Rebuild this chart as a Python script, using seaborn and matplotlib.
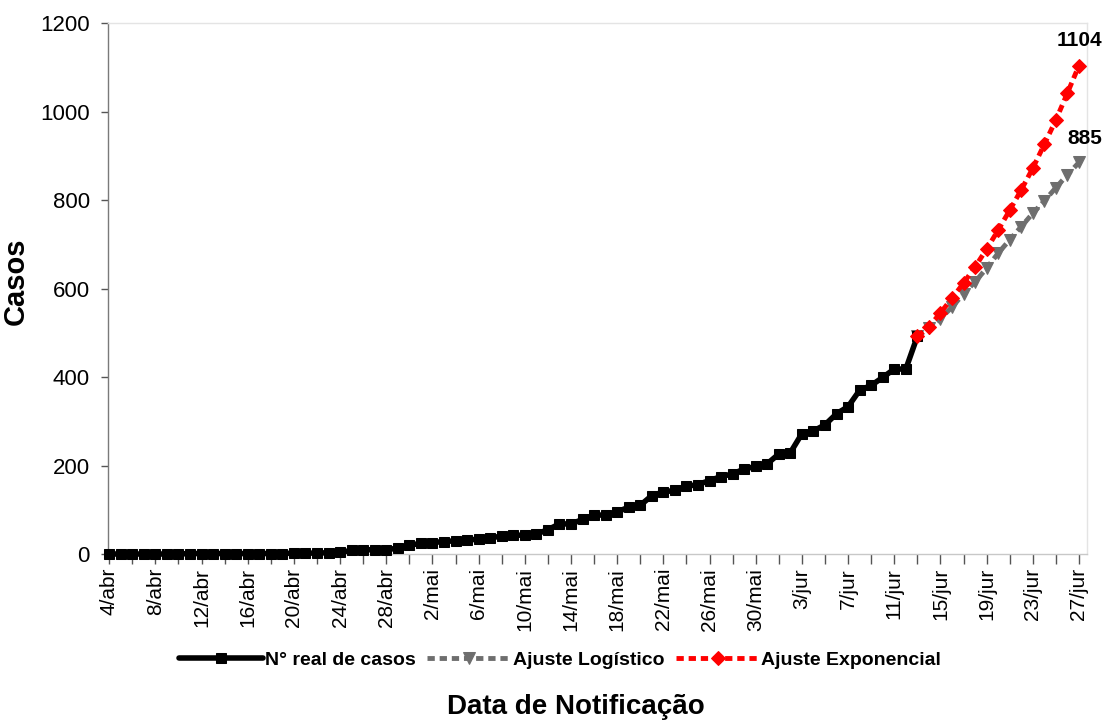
import numpy as np
import pandas as pd
import seaborn as sns
import matplotlib.pyplot as plt

# casos reais (4/abr .. 13/jun) e ajustes (13/jun .. 27/jun)
real_cases = [0, 0, 0, 0, 0, 0, 0, 1, 1, 1, 1, 1, 1, 1, 1, 1,
              2, 2, 2, 3, 4, 8, 9, 10, 10, 13, 20, 24, 26, 28,
              30, 31, 34, 37, 40, 42, 43, 45, 55, 68, 68, 78, 88, 88,
              95, 106, 110, 132, 140, 144, 153, 157, 166, 175, 181, 192,
              198, 204, 226, 229, 272, 278, 292, 317, 333, 370, 381, 399,
              418, 418, 492]
logistic_fit = [492, 510, 532, 558, 588, 615, 646, 680, 710, 740, 770, 798,
                828, 857, 885]
exponential_fit = [492, 513, 545, 578, 612, 649, 689, 732, 777, 823, 872,
                   926, 981, 1042, 1104]
tick_labels = ['4/abr', '8/abr', '12/abr', '16/abr', '20/abr', '24/abr',
               '28/abr', '2/mai', '6/mai', '10/mai', '14/mai', '18/mai',
               '22/mai', '26/mai', '30/mai', '3/jur', '7/jur', '11/jur',
               '15/jur', '19/jur', '23/jur', '27/jur']

real_df = pd.DataFrame({'dia': np.arange(len(real_cases)), 'casos': real_cases})
fit_start = len(real_cases) - 1
fit_days = np.arange(fit_start, fit_start + len(logistic_fit))
fit_df = pd.DataFrame({'dia': fit_days, 'log': logistic_fit, 'exp': exponential_fit})

sns.set_style("white")
plt.rcParams['font.family'] = ['Liberation Sans', 'DejaVu Sans']
plt.rcParams['text.color'] = 'black'
plt.rcParams['axes.labelcolor'] = 'black'
plt.rcParams['xtick.color'] = 'black'
plt.rcParams['ytick.color'] = 'black'

fig = plt.figure(figsize=(11.07, 7.24), dpi=100)
ax = fig.add_axes([0.0976, 0.2348, 0.8844, 0.7334])

sns.lineplot(data=real_df, x='dia', y='casos', ax=ax, color='black', lw=4,
             marker='s', markersize=7, markeredgecolor='black', legend=False,
             clip_on=False, zorder=3)
sns.lineplot(data=fit_df, x='dia', y='log', ax=ax, color='#6e6e6e', lw=3.5,
             linestyle=(0, (1.5, 1.0)), marker='v', markersize=8,
             markeredgecolor='#6e6e6e', legend=False, zorder=2)
sns.lineplot(data=fit_df, x='dia', y='exp', ax=ax, color='#ff0000', lw=3.5,
             linestyle=(0, (1.5, 1.0)), marker='D', markersize=7,
             markeredgecolor='#ff0000', legend=False, zorder=4)

ax.set_xlim(-0.1, 84.7)
ax.set_ylim(0, 1200)
ax.set_yticks(range(0, 1201, 200))
ax.tick_params(axis='y', labelsize=16, length=5, width=1, color='#555555',
               left=True, pad=8)
ax.set_xticks(np.arange(0, 85, 2), minor=True)
ax.set_xticks(np.arange(0, 85, 4))
ax.set_xticklabels(tick_labels, rotation=90, fontsize=15)
ax.tick_params(axis='x', which='both', length=7, width=1, color='#555555',
               bottom=True, pad=3)

for side in ['top', 'right']:
    ax.spines[side].set_color('#e4e4e4')
ax.spines['bottom'].set_color('#c8c8c8')
ax.spines['left'].set_color('#7a7a7a')
for sp in ax.spines.values():
    sp.set_linewidth(1)

ax.set_xlabel('')
ax.set_ylabel('Casos', fontsize=21, fontweight='bold')
ax.yaxis.set_label_coords(-0.08, 0.514)

ax.annotate(str(exponential_fit[-1]), (fit_days[-1], exponential_fit[-1]),
            xytext=(0, 14), textcoords='offset points', ha='center',
            fontsize=15, fontweight='bold')
ax.annotate(str(logistic_fit[-1]), (fit_days[-1], logistic_fit[-1]),
            xytext=(4, 13), textcoords='offset points', ha='center',
            fontsize=15, fontweight='bold')

fig.legend(handles=ax.lines[:3],
           labels=['N° real de casos', 'Ajuste Logístico', 'Ajuste Exponencial'],
           loc='center', bbox_to_anchor=(0.506, 0.088), ncol=3, frameon=False,
           handlelength=4.3, columnspacing=0.6, handletextpad=0.1,
           prop={'size': 14, 'weight': 'bold'})

fig.text(576 / 1107, 1 - 707 / 724, 'Data de Notificação', ha='center',
         va='center', fontsize=20, fontweight='bold')

fig.savefig('out.png', dpi=100)
